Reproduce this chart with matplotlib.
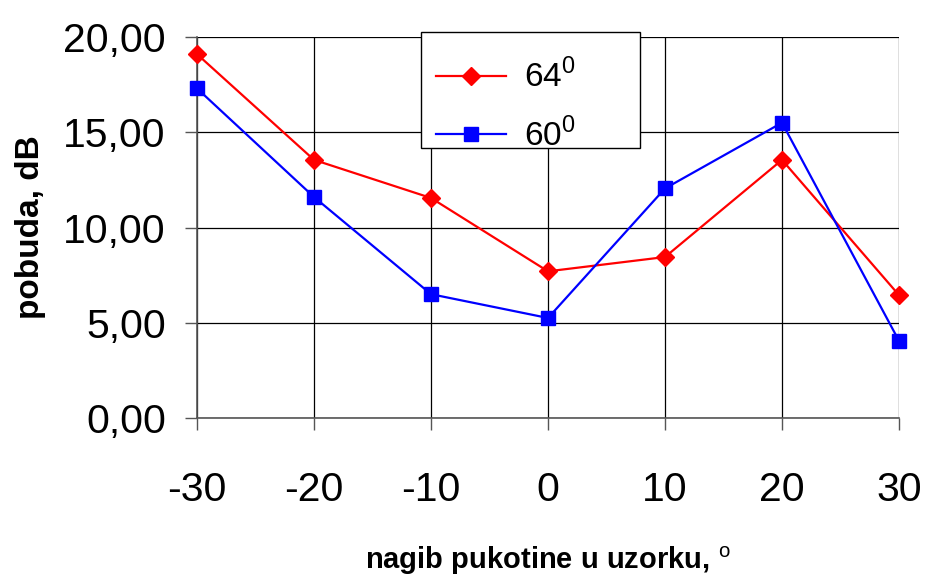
import matplotlib
matplotlib.use("Agg")
import matplotlib.pyplot as plt
from matplotlib.patches import Rectangle
from matplotlib.ticker import FuncFormatter

plt.rcParams['font.family'] = ['Liberation Sans', 'DejaVu Sans']
plt.rcParams['mathtext.fontset'] = 'custom'
plt.rcParams['mathtext.rm'] = 'Liberation Sans'
plt.rcParams['axes.unicode_minus'] = False

# data
angles = [-30, -20, -10, 0, 10, 20, 30]
pobuda_64 = [19.1, 13.55, 11.55, 7.7, 8.45, 13.55, 6.45]
pobuda_60 = [17.3, 11.6, 6.5, 5.25, 12.05, 15.5, 4.05]
labels = ['64$^{\\mathrm{0}}$', '60$^{\\mathrm{0}}$']

fig = plt.figure(figsize=(9.27, 5.78), dpi=100)
ax = fig.add_axes([197 / 927, 1 - 418 / 578, 702 / 927, 381 / 578])

ax.plot(angles, pobuda_64, color='#ff0000', lw=1.6, marker='D', ms=9.5,
        label=labels[0], clip_on=False, zorder=3)
ax.plot(angles, pobuda_60, color='#0000ff', lw=1.6, marker='s', ms=10,
        label=labels[1], clip_on=False, zorder=3)

ax.set_xlim(-30, 30)
ax.set_ylim(0, 20)
ax.set_xticks(angles)
ax.set_yticks([0, 5, 10, 15, 20])
ax.yaxis.set_major_formatter(FuncFormatter(lambda v, p: f"{v:.2f}".replace('.', ',')))
ax.grid(True, color='black', lw=0.9)
ax.tick_params(axis='both', labelsize=29.5, length=8.5, width=1, color='#555555', direction='out')
ax.tick_params(axis='x', pad=30)
ax.tick_params(axis='y', pad=14)
for s in ['top', 'right']:
    ax.spines[s].set_visible(False)
for s in ['left', 'bottom']:
    ax.spines[s].set_color('#555555')
    ax.spines[s].set_linewidth(1.2)

ax.set_ylabel('pobuda, dB', fontsize=24, fontweight='bold', labelpad=12)
fig.text(548 / 927, 1 - 569 / 578, 'nagib pukotine u uzorku, $^{\\mathrm{o}}$',
         fontsize=21, fontweight='bold', ha='center', va='baseline')

# legend frame drawn separately so the entries sit where they do in the reference
ax.add_patch(Rectangle((421 / 927, 1 - 148 / 578), 219 / 927, 116 / 578,
                       transform=fig.transFigure, facecolor='white',
                       edgecolor='black', lw=1.0, zorder=4, clip_on=False))
leg = ax.legend(loc='upper left', bbox_to_anchor=(421 / 927, 1 - 44 / 578),
                bbox_transform=fig.transFigure, borderaxespad=0, frameon=False,
                fontsize=24, handlelength=2.1, handletextpad=0.55,
                borderpad=0.45, labelspacing=0.7)
leg.set_zorder(5)

fig.savefig('out.png', dpi=100)
